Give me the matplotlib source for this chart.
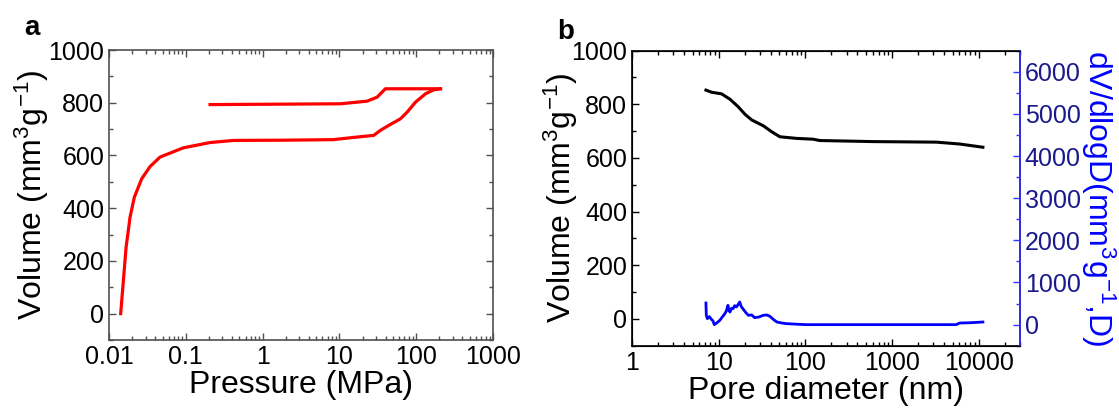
import numpy as np
import matplotlib
matplotlib.use("Agg")
import matplotlib.pyplot as plt

plt.rcParams['font.family'] = ['Liberation Sans', 'DejaVu Sans']
plt.rcParams['mathtext.fontset'] = 'custom'
plt.rcParams['mathtext.rm'] = 'Liberation Sans'
plt.rcParams['mathtext.it'] = 'Liberation Sans:italic'

# panel a: intrusion / extrusion (pressure in MPa, volume in mm3/g)
p_intr = [0.0142, 0.0167, 0.0188, 0.0214, 0.0267, 0.0343, 0.0463, 0.093, 0.207,
          0.418, 2.0, 8.3, 10.3, 20.0, 27.9, 34.1, 43.8, 62.3, 76.0, 97.7, 132, 169, 207]
v_intr = [0, 252, 366, 442, 512, 558, 594, 629, 649,
          657, 658, 660, 663, 672, 676, 695, 714, 739, 764, 802, 834, 849, 853]
p_extr = [207, 39.7, 30.9, 22.9, 10.3, 0.207]
v_extr = [853, 853, 821, 806, 796, 793]

# panel b: cumulative volume and pore size distribution (diameter in nm)
d_cum = [7.13, 8.29, 10.8, 13.5, 16.8, 20.1, 24.0, 32.7, 40.8, 50.8,
         79, 123, 147, 606, 3250, 6040, 11200]
v_cum = [853, 845, 839, 819, 791, 763, 742, 720, 698, 679,
         673, 670, 665, 661, 659, 652, 640]
d_psd = [7.13, 7.2, 7.4, 7.8, 8.3, 8.6, 8.9, 9.5, 10.3, 11.0, 11.8, 12.3, 12.8,
         13.2, 13.5, 14.1, 14.7, 15.3, 16.0, 16.8, 17.5, 18.2, 19.0, 20.5,
         22.0, 24.0, 26.0, 29.0, 32.7, 36.0, 39.0, 43.0, 47.0, 53.0, 60.0,
         80.0, 100, 1000, 5500, 6040, 8000, 11200]
y_psd = [513, 221, 142, 190, 119, 90, 0, 40, 102, 180, 261, 330, 458,
         330, 299, 390, 380, 450, 418, 480, 537, 430, 380, 290,
         221, 230, 166, 180, 221, 230, 197, 120, 62, 40, 24,
         10, 0, 0, 0, 38, 45, 62]

fig = plt.figure(figsize=(11.19, 4.12), dpi=100)
axa = fig.add_axes([0.0974, 0.1748, 0.3432, 0.7038])
axb = fig.add_axes([0.5648, 0.1609, 0.3467, 0.7161])

gray = '#505050'

# ---- panel a
axa.plot(p_intr, v_intr, color='#ff0000', lw=2.3)
axa.plot(p_extr, v_extr, color='#ff0000', lw=2.3)
axa.set_xscale('log')
axa.set_xlim(0.01, 1000)
axa.set_ylim(-100, 1000)
axa.set_yticks(np.arange(0, 1001, 200))
axa.set_yticks(np.arange(-100, 1001, 100), minor=True)
axa.set_xticks([0.01, 0.1, 1, 10, 100, 1000])
axa.set_xticklabels(['0.01', '0.1', '1', '10', '100', '1000'])
axa.set_xlabel('Pressure (MPa)', fontsize=23, labelpad=1)
axa.set_ylabel('Volume (mm$^3$g$^{-1}$)', fontsize=23)
axa.yaxis.set_label_coords(-0.152, 0.5)
for s in axa.spines.values():
    s.set_color(gray)
    s.set_linewidth(1.2)
axa.tick_params(which='both', direction='in', top=True, right=True,
                labelsize=18, color=gray)
axa.tick_params(which='major', length=5, width=1)
axa.tick_params(which='minor', length=3, width=1)
fig.text(0.022, 0.915, 'a', fontsize=20, fontweight='bold')

# ---- panel b
axb.plot(d_cum, v_cum, color='black', lw=2.2)
axb.set_xscale('log')
axb.set_xlim(1, 30000)
axb.set_ylim(-100, 1000)
axb.set_yticks(np.arange(0, 1001, 200))
axb.set_yticks(np.arange(-100, 1001, 100), minor=True)
axb.set_xticks([1, 10, 100, 1000, 10000])
axb.set_xticklabels(['1', '10', '100', '1000', '10000'])
axb.set_xlabel('Pore diameter (nm)', fontsize=23, labelpad=1)
axb.set_ylabel('Volume (mm$^3$g$^{-1}$)', fontsize=23)
axb.yaxis.set_label_coords(-0.134, 0.5)
axb.tick_params(which='both', direction='in', top=True, labelsize=18)
axb.tick_params(which='major', length=5, width=1)
axb.tick_params(which='minor', length=3, width=1)
for s in axb.spines.values():
    s.set_linewidth(1.2)

axr = axb.twinx()
axr.plot(d_psd, y_psd, color='#0000ff', lw=2)
axr.set_xlim(1, 30000)
axr.set_ylim(-500, 6500)
axr.set_yticks(np.arange(0, 6001, 1000))
axr.set_yticks(np.arange(-500, 6501, 500), minor=True)
axr.set_ylabel('dV/dlogD(mm$^3$g$^{-1}$,D)', fontsize=23, color='#0000ff',
               rotation=270, labelpad=26)
axr.spines['right'].set_color('#3333ff')
axr.spines['right'].set_linewidth(1.2)
axr.tick_params(which='both', direction='in', color='#3333ff',
                labelcolor='#1a1a8c', labelsize=18)
axr.tick_params(which='major', length=5, width=1)
axr.tick_params(which='minor', length=3, width=1)
fig.text(0.498, 0.905, 'b', fontsize=20, fontweight='bold')

fig.savefig('out.png', dpi=100)
